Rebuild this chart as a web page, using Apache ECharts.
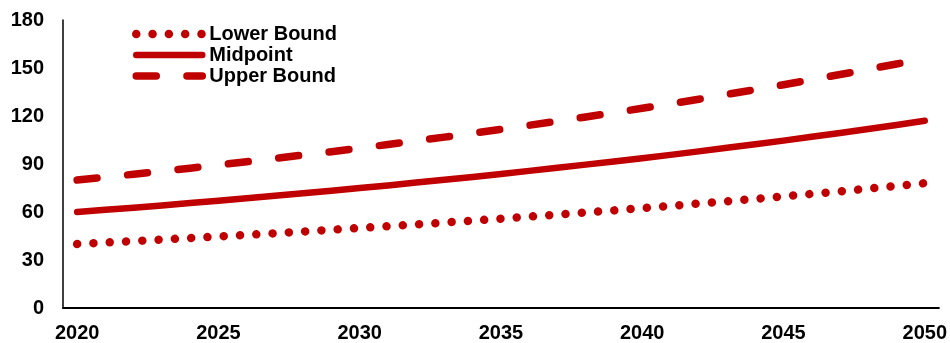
<!DOCTYPE html>
<html>
<head>
<meta charset="utf-8">
<script src="https://cdn.jsdelivr.net/npm/echarts@6/dist/echarts.min.js"></script>
<style>
  html, body { margin: 0; padding: 0; background: #fff; overflow: hidden; }
  #chart { width: 950px; height: 343px; overflow: hidden; }
</style>
</head>
<body>
<div id="chart"></div>
<script>
// Years on the horizontal axis (labelled every five years)
const years = [];
for (let y = 2020; y <= 2050; y++) years.push(String(y));

// Projected values, one per year
const lowerBound = [40, 40.9, 41.8, 42.8, 43.7, 44.7, 45.7, 46.7, 47.8, 48.9, 50.0,
  51.1, 52.2, 53.4, 54.6, 55.8, 57.1, 58.4, 59.7, 61.0, 62.4,
  63.8, 65.3, 66.7, 68.2, 69.8, 71.3, 72.9, 74.6, 76.3, 78.0];
const midpoint = [60, 61.4, 62.7, 64.1, 65.6, 67.1, 68.6, 70.1, 71.7, 73.3, 75.0,
  76.6, 78.4, 80.1, 81.9, 83.8, 85.7, 87.6, 89.6, 91.6, 93.6,
  95.7, 97.9, 100.1, 102.3, 104.6, 107.0, 109.4, 111.9, 114.4, 117.0];
const upperBound = [80, 81.8, 83.6, 85.5, 87.4, 89.4, 91.4, 93.5, 95.6, 97.7, 99.9,
  102.2, 104.5, 106.8, 109.2, 111.7, 114.2, 116.8, 119.4, 122.1, 124.8,
  127.6, 130.5, 133.5, 136.5, 139.5, 142.7, 145.9, 149.2, 152.5, 155.9];

const seriesNames = ['Lower Bound', 'Midpoint', 'Upper Bound'];
const yTicks = { min: 0, max: 180, interval: 30 };

const RED = '#C00000';
const FONT = 'Liberation Sans, Arial, sans-serif';

// dotted / solid / dashed strokes
const styles = [
  { width: 8.5, type: [0.01, 16.3] },
  { width: 6.5, type: 'solid' },
  { width: 7.5, type: [20, 30.7] }
];
const dataSets = [lowerBound, midpoint, upperBound];

const chart = echarts.init(document.getElementById('chart'), null, { renderer: 'canvas' });

chart.setOption({
  animation: false,
  backgroundColor: '#ffffff',
  grid: { left: 63, right: 11, top: 20, bottom: 34, containLabel: false },
  legend: {
    orient: 'vertical',
    left: 127,
    top: 19,
    itemWidth: 66,
    itemHeight: 14,
    itemGap: 1,
    itemStyle: { opacity: 0, borderWidth: 0 },
    textStyle: { fontFamily: FONT, fontWeight: 'bold', fontSize: 20, color: '#000', padding: [0, 0, 0, 2] },
    data: seriesNames.map((n, i) => ({
      name: n,
      itemStyle: { opacity: 0, borderWidth: 0 },
      lineStyle: { width: styles[i].width, type: styles[i].type, cap: 'round', color: RED }
    }))
  },
  xAxis: {
    type: 'category',
    data: years,
    boundaryGap: true,
    axisLine: { show: true, lineStyle: { color: '#000', width: 2 } },
    axisTick: { show: false },
    axisLabel: {
      interval: 4,
      margin: 15,
      color: '#000',
      fontFamily: FONT,
      fontWeight: 'bold',
      fontSize: 20
    },
    splitLine: { show: false }
  },
  yAxis: {
    type: 'value',
    min: yTicks.min,
    max: yTicks.max,
    interval: yTicks.interval,
    axisLine: { show: true, lineStyle: { color: '#000', width: 1.5 } },
    axisTick: { show: false },
    axisLabel: {
      margin: 19,
      color: '#000',
      fontFamily: FONT,
      fontWeight: 'bold',
      fontSize: 20
    },
    splitLine: { show: false }
  },
  series: seriesNames.map((n, i) => ({
    name: n,
    type: 'line',
    data: dataSets[i],
    symbol: 'none',
    smooth: false,
    color: RED,
    lineStyle: { color: RED, width: styles[i].width, type: styles[i].type, cap: 'round', join: 'round' }
  }))
});
</script>
</body>
</html>
